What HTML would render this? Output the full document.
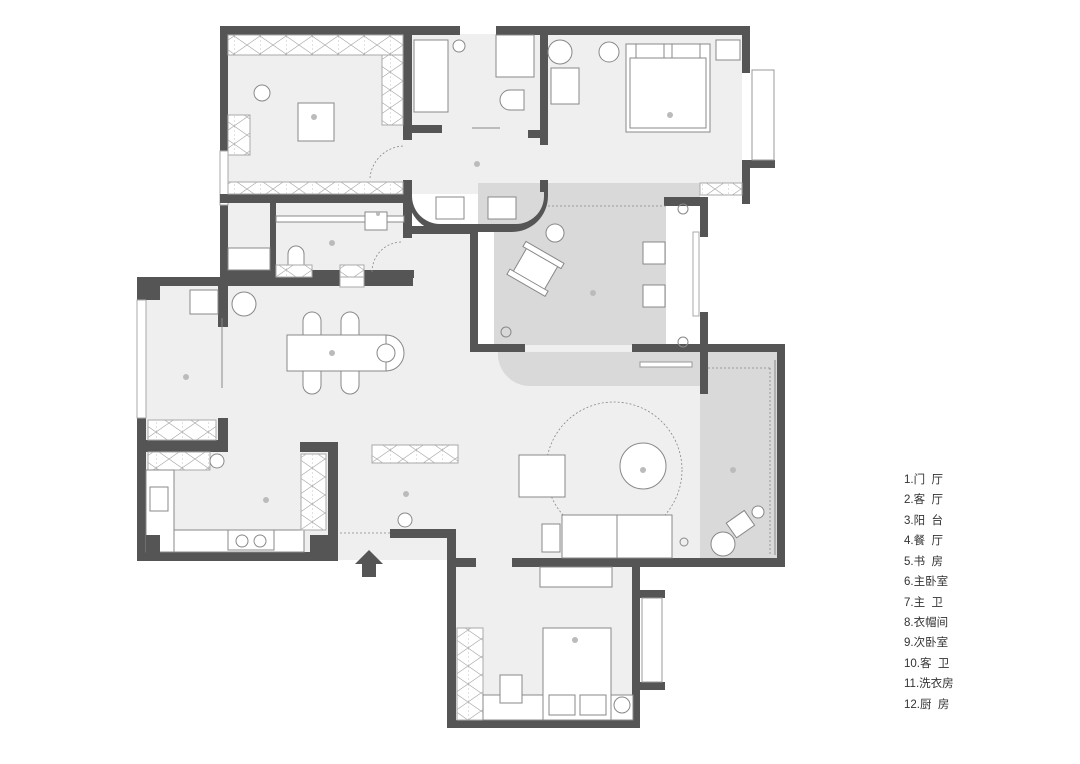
<!DOCTYPE html>
<html><head><meta charset="utf-8"><style>
html,body{margin:0;padding:0;background:#fff;width:1080px;height:764px;overflow:hidden}
svg{display:block}
.w{fill:#555}
.f{fill:#efefef}
.g{fill:#d9d9d9}
.fu{fill:#fff;stroke:#888;stroke-width:1}
.fl{fill:none;stroke:#888;stroke-width:1}
.d{fill:none;stroke:#888;stroke-width:.8;stroke-dasharray:2 2}
.lb{fill:#bbb}
.lg{font-family:"Liberation Sans","Noto Sans CJK SC",sans-serif;font-size:11.5px;fill:#333;white-space:pre}
</style></head><body>
<svg width="1080" height="764" viewBox="0 0 1080 764" xmlns="http://www.w3.org/2000/svg">
<defs>
<pattern id="xp" width="26" height="18" patternUnits="userSpaceOnUse">
<rect width="26" height="18" fill="#fff"/><path d="M0 0L26 18M26 0L0 18" stroke="#aaa" stroke-width=".7"/><path d="M0 0V18" stroke="#aaa" stroke-width=".7" stroke-dasharray="2 2"/>
</pattern>
</defs>
<rect class="f" x="228" y="34" width="514" height="160"/>
<rect class="f" x="228" y="203" width="180" height="75"/>
<rect class="f" x="403" y="226" width="70" height="64"/>
<rect class="f" x="146" y="286" width="325" height="274"/>
<rect class="f" x="456" y="345" width="321" height="215"/>
<rect class="f" x="456" y="228" width="20" height="120"/>
<rect class="f" x="456" y="560" width="180" height="162"/>
<rect class="g" x="478" y="183" width="222" height="162"/>
<rect class="g" x="700" y="352" width="77" height="206"/>
<path class="g" d="M498 352H700V386H530A32 32 0 0 1 498 352Z"/>
<rect fill="#fff" x="666" y="205" width="34" height="140"/>
<rect fill="#fff" x="478" y="228" width="16" height="117"/>
<rect class="w" x="220" y="26" width="240" height="9"/>
<rect class="w" x="496" y="26" width="254" height="9"/>
<rect class="w" x="742" y="26" width="8" height="47"/>
<rect class="w" x="742" y="160" width="8" height="44"/>
<rect class="w" x="750" y="160" width="25" height="8"/>
<rect fill="none" stroke="#999" x="752" y="70" width="22" height="90"/>
<rect class="w" x="220" y="26" width="8" height="125"/>
<rect class="w" x="220" y="205" width="8" height="80"/>
<rect fill="#fff" stroke="#aaa" x="220" y="151" width="8" height="54"/>
<rect class="w" x="220" y="194" width="192" height="9"/>
<rect class="w" x="403" y="35" width="9" height="105"/>
<rect class="w" x="412" y="125" width="30" height="8"/>
<rect class="w" x="540" y="35" width="8" height="110"/>
<rect class="w" x="528" y="130" width="12" height="8"/>
<rect class="w" x="403" y="180" width="9" height="58"/>
<rect class="w" x="540" y="180" width="8" height="12"/>
<path class="w" d="M412 196A28 28 0 0 0 440 224H516A28 28 0 0 0 544 196V190H548V196A36 36 0 0 1 512 232H444A36 36 0 0 1 408 196Z"/>
<rect class="w" x="403" y="226" width="70" height="8"/>
<rect class="w" x="470" y="228" width="8" height="124"/>
<rect class="w" x="470" y="344" width="55" height="8"/>
<rect class="w" x="632" y="344" width="153" height="8"/>
<rect class="w" x="664" y="197" width="44" height="9"/>
<rect class="w" x="700" y="197" width="8" height="40"/>
<rect class="w" x="700" y="312" width="8" height="82"/>
<rect class="w" x="777" y="345" width="8" height="222"/>
<rect class="w" x="137" y="277" width="276" height="9"/>
<rect class="w" x="137" y="277" width="9" height="284"/>
<rect fill="#fff" stroke="#aaa" x="137" y="300" width="9" height="118"/>
<rect class="w" x="218" y="277" width="10" height="50"/>
<rect class="w" x="146" y="440" width="82" height="12"/>
<rect class="w" x="218" y="418" width="10" height="34"/>
<rect class="w" x="137" y="552" width="198" height="9"/>
<rect class="w" x="300" y="442" width="38" height="10"/>
<rect class="w" x="328" y="442" width="10" height="118"/>
<rect class="w" x="310" y="535" width="28" height="26"/>
<rect class="w" x="390" y="529" width="66" height="9"/>
<rect class="w" x="447" y="529" width="9" height="199"/>
<rect class="w" x="456" y="558" width="20" height="9"/>
<rect class="w" x="512" y="558" width="273" height="9"/>
<rect class="w" x="632" y="565" width="8" height="163"/>
<rect class="w" x="640" y="590" width="25" height="8"/>
<rect class="w" x="640" y="682" width="25" height="8"/>
<rect fill="none" stroke="#999" x="642" y="598" width="20" height="84"/>
<rect class="w" x="447" y="720" width="193" height="8"/>
<rect class="w" x="270" y="203" width="6" height="75"/>
<rect class="w" x="228" y="270" width="186" height="8"/>
<path fill="#555" d="M369 550L383 564H376V577H362V564H355Z"/>
<line class="d" x1="340" y1="533" x2="390" y2="533"/>
<rect fill="url(#xp)" stroke="#aaa" x="228" y="35" width="175" height="20"/>
<rect fill="url(#xp)" stroke="#aaa" x="228" y="182" width="175" height="12"/>
<rect fill="url(#xp)" stroke="#aaa" x="382" y="55" width="21" height="70"/>
<rect fill="url(#xp)" stroke="#aaa" x="228" y="115" width="22" height="40"/>
<rect class="fu" x="298" y="103" width="36" height="38"/>
<circle class="fu" cx="262" cy="93" r="8"/>
<rect class="fu" x="414" y="40" width="34" height="72"/>
<circle class="fu" cx="459" cy="46" r="6"/>
<rect class="fu" x="496" y="35" width="38" height="42"/>
<path class="fu" d="M510 90h14v20h-14a10 10 0 0 1 0-20z"/>
<line class="fl" x1="472" y1="128" x2="500" y2="128"/>
<path class="d" d="M370 178A35 35 0 0 1 403 146"/>
<rect class="fu" x="436" y="197" width="28" height="22"/>
<rect class="fu" x="488" y="197" width="28" height="22"/>
<circle class="fu" cx="560" cy="52" r="12"/>
<circle class="fu" cx="609" cy="52" r="10"/>
<rect class="fu" x="551" y="68" width="28" height="36"/>
<rect class="fu" x="626" y="44" width="84" height="88"/>
<rect class="fu" x="630" y="58" width="76" height="70"/>
<rect class="fu" x="636" y="44" width="28" height="14"/>
<rect class="fu" x="672" y="44" width="28" height="14"/>
<rect class="fu" x="716" y="40" width="24" height="20"/>
<rect fill="url(#xp)" stroke="#aaa" x="700" y="183" width="42" height="12"/>
<rect class="fu" x="276" y="216" width="128" height="6"/>
<rect class="fu" x="365" y="212" width="22" height="18"/>
<path class="fu" d="M288 270v-16a8 8 0 0 1 16 0v16z"/>
<rect class="fu" x="228" y="248" width="42" height="22"/>
<rect fill="url(#xp)" stroke="#aaa" x="276" y="265" width="36" height="12"/>
<rect fill="url(#xp)" stroke="#aaa" x="340" y="265" width="24" height="12"/>
<rect fill="#fff" stroke="#aaa" x="340" y="277" width="24" height="10"/>
<path class="d" d="M372 272A30 30 0 0 1 403 242"/>
<circle class="fu" cx="555" cy="233" r="9"/>
<g transform="rotate(30 536 268)"><rect class="fu" x="518" y="252" width="36" height="32"/><rect class="fu" x="514" y="250" width="44" height="6"/><rect class="fu" x="514" y="282" width="44" height="6"/></g>
<rect class="fu" x="643" y="242" width="22" height="22"/>
<rect class="fu" x="643" y="285" width="22" height="22"/>
<rect fill="#fff" stroke="#aaa" x="693" y="232" width="6" height="84"/>
<rect fill="#fff" stroke="#999" x="640" y="362" width="52" height="5"/>
<line class="d" x1="548" y1="206" x2="666" y2="206"/>
<circle class="fl" cx="506" cy="332" r="5"/>
<circle class="fl" cx="683" cy="209" r="5"/>
<circle class="fl" cx="683" cy="342" r="5"/>
<circle class="fu" cx="244" cy="304" r="12"/>
<rect class="fu" x="190" y="290" width="28" height="24"/>
<line class="fl" x1="222" y1="318" x2="222" y2="388"/>
<rect class="fu" x="287" y="335" width="100" height="36"/>
<path class="fu" d="M386 335a18 18 0 0 1 0 36z"/>
<circle class="fu" cx="386" cy="353" r="9"/>
<path class="fu" d="M303 335v-14a9 9 0 0 1 18 0v14zM341 335v-14a9 9 0 0 1 18 0v14zM303 371v14a9 9 0 0 0 18 0v-14zM341 371v14a9 9 0 0 0 18 0v-14z"/>
<rect fill="url(#xp)" stroke="#aaa" x="148" y="420" width="68" height="20"/>
<rect fill="url(#xp)" stroke="#aaa" x="148" y="452" width="62" height="18"/>
<circle class="fu" cx="217" cy="461" r="7"/>
<rect class="fu" x="146" y="470" width="28" height="82"/>
<rect class="fu" x="150" y="487" width="18" height="24"/>
<rect class="fu" x="174" y="530" width="130" height="22"/>
<rect class="fu" x="228" y="530" width="46" height="20"/>
<circle class="fu" cx="242" cy="541" r="6"/><circle class="fu" cx="260" cy="541" r="6"/>
<rect fill="url(#xp)" stroke="#aaa" x="301" y="454" width="25" height="76"/>
<rect class="w" x="146" y="535" width="14" height="18"/>
<rect class="w" x="146" y="286" width="14" height="14"/>
<rect fill="url(#xp)" stroke="#aaa" x="372" y="445" width="86" height="18"/>
<circle class="fu" cx="405" cy="520" r="7"/>
<circle class="d" cx="614" cy="470" r="68"/>
<circle class="fu" cx="643" cy="466" r="23"/>
<rect class="fu" x="519" y="455" width="46" height="42"/>
<rect class="fu" x="562" y="515" width="110" height="43"/>
<line class="fl" x1="617" y1="515" x2="617" y2="558"/>
<rect class="fu" x="542" y="524" width="18" height="28"/>
<circle class="fl" cx="684" cy="542" r="4"/>
<circle class="fu" cx="758" cy="512" r="6"/>
<g transform="rotate(-35 741 525)"><rect class="fu" x="730" y="515" width="22" height="18"/></g>
<circle class="fu" cx="723" cy="544" r="12"/>
<line class="d" x1="708" y1="368" x2="770" y2="368"/>
<line class="d" x1="770" y1="368" x2="770" y2="555"/>
<line class="fl" x1="775" y1="360" x2="775" y2="555"/>
<rect class="fu" x="540" y="567" width="72" height="20"/>
<rect fill="url(#xp)" stroke="#aaa" x="457" y="628" width="26" height="92"/>
<rect class="fu" x="483" y="695" width="150" height="25"/>
<rect class="fu" x="543" y="628" width="68" height="92"/>
<rect class="fu" x="549" y="695" width="26" height="20"/>
<rect class="fu" x="580" y="695" width="26" height="20"/>
<rect class="fu" x="500" y="675" width="22" height="28"/>
<circle class="fu" cx="622" cy="705" r="8"/>
<g class="lb">
<circle cx="314" cy="117" r="3"/><circle cx="477" cy="164" r="3"/><circle cx="670" cy="115" r="3"/>
<circle cx="332" cy="353" r="3"/><circle cx="186" cy="377" r="3"/><circle cx="266" cy="500" r="3"/>
<circle cx="332" cy="243" r="3"/><circle cx="378" cy="214" r="2"/><circle cx="593" cy="293" r="3"/>
<circle cx="406" cy="494" r="3"/><circle cx="643" cy="470" r="3"/><circle cx="733" cy="470" r="3"/>
<circle cx="575" cy="640" r="3"/>
</g>
<g class="lg">
<text x="904" y="483">1.门&#160;&#160;厅</text>
<text x="904" y="503">2.客&#160;&#160;厅</text>
<text x="904" y="524">3.阳&#160;&#160;台</text>
<text x="904" y="544">4.餐&#160;&#160;厅</text>
<text x="904" y="565">5.书&#160;&#160;房</text>
<text x="904" y="585">6.主卧室</text>
<text x="904" y="606">7.主&#160;&#160;卫</text>
<text x="904" y="626">8.衣帽间</text>
<text x="904" y="646">9.次卧室</text>
<text x="904" y="667">10.客&#160;&#160;卫</text>
<text x="904" y="687">11.洗衣房</text>
<text x="904" y="708">12.厨&#160;&#160;房</text>
</g>
</svg>
</body></html>
